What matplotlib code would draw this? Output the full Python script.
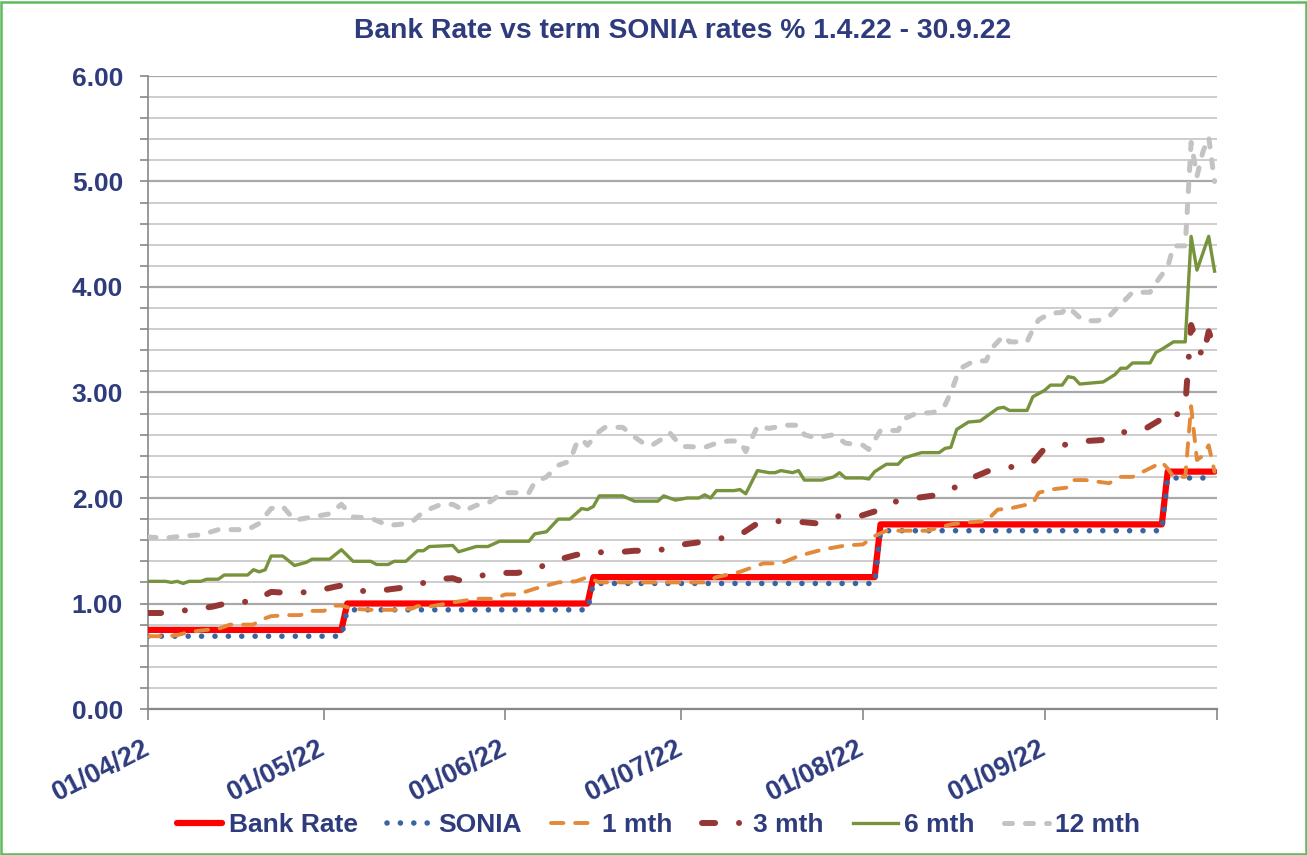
import pandas as pd
import matplotlib
matplotlib.use("Agg")
import matplotlib.pyplot as plt
from matplotlib.patches import Rectangle
from matplotlib.ticker import MultipleLocator

# === data (dd/mm, 2022) ===
bank_dates = ["01/04", "04/05", "05/05", "15/06", "16/06", "03/08", "04/08", "21/09", "22/09", "30/09"]
bank_vals = [0.75, 0.75, 1.00, 1.00, 1.25, 1.25, 1.75, 1.75, 2.25, 2.25]

sonia_dates = ["01/04", "04/05", "05/05", "15/06", "16/06", "03/08", "04/08", "21/09", "22/09", "30/09"]
sonia_vals = [0.69, 0.69, 0.94, 0.94, 1.19, 1.19, 1.69, 1.69, 2.19, 2.19]

m1_dates = ["01/04", "04/04", "06/04", "08/04", "11/04", "13/04", "15/04", "19/04", "20/04", "22/04",
            "25/04", "27/04", "29/04", "01/05", "03/05", "04/05", "06/05", "09/05", "13/05", "16/05",
            "17/05", "19/05", "23/05", "27/05", "30/05", "01/06", "03/06", "06/06", "10/06", "13/06",
            "15/06", "17/06", "05/07", "07/07", "11/07", "15/07", "18/07", "21/07", "25/07", "29/07",
            "01/08", "03/08", "05/08", "12/08", "16/08", "19/08", "22/08", "24/08", "26/08", "30/08",
            "31/08", "02/09", "05/09", "06/09", "08/09", "12/09", "14/09", "16/09", "20/09", "21/09",
            "22/09", "23/09", "25/09", "26/09", "27/09", "28/09", "29/09", "30/09"]
m1_vals = [0.69, 0.69, 0.70, 0.73, 0.75, 0.76, 0.80, 0.80, 0.84, 0.88,
           0.89, 0.89, 0.93, 0.93, 0.98, 0.98, 0.95, 0.94, 0.94, 0.95,
           0.975, 0.97, 1.01, 1.045, 1.045, 1.086, 1.086, 1.14, 1.20, 1.21,
           1.25, 1.20, 1.20, 1.25, 1.30, 1.38, 1.38, 1.45, 1.51, 1.55,
           1.56, 1.64, 1.69, 1.69, 1.75, 1.77, 1.78, 1.89, 1.90, 1.95,
           2.05, 2.08, 2.10, 2.17, 2.17, 2.14, 2.20, 2.20, 2.31, 2.34,
           2.28, 2.20, 2.20, 2.87, 2.36, 2.40, 2.50, 2.25]

m3_dates = ["01/04", "04/04", "08/04", "12/04", "15/04", "19/04", "22/04", "25/04", "29/04", "03/05",
            "04/05", "06/05", "09/05", "13/05", "16/05", "20/05", "23/05", "24/05", "26/05", "30/05",
            "03/06", "06/06", "09/06", "13/06", "16/06", "19/06", "23/06", "27/06", "30/06", "04/07",
            "07/07", "11/07", "14/07", "17/07", "20/07", "24/07", "28/07", "31/07", "04/08", "06/08",
            "10/08", "14/08", "16/08", "20/08", "23/08", "26/08", "30/08", "01/09", "04/09", "08/09",
            "11/09", "14/09", "18/09", "21/09", "22/09", "23/09", "25/09", "26/09", "27/09", "28/09",
            "29/09", "30/09"]
m3_vals = [0.91, 0.91, 0.94, 0.97, 1.01, 1.02, 1.11, 1.10, 1.11, 1.16,
           1.17, 1.13, 1.11, 1.14, 1.16, 1.23, 1.24, 1.22, 1.24, 1.29,
           1.29, 1.32, 1.40, 1.46, 1.49, 1.48, 1.50, 1.50, 1.55, 1.58,
           1.61, 1.65, 1.76, 1.78, 1.78, 1.76, 1.83, 1.82, 1.89, 1.96,
           2.00, 2.03, 2.08, 2.20, 2.27, 2.29, 2.34, 2.47, 2.50, 2.54,
           2.55, 2.62, 2.65, 2.75, 2.80, 2.76, 2.87, 3.64, 3.47, 3.33,
           3.58, 3.42]

m6_dates = ["01/04", "04/04", "05/04", "06/04", "07/04", "08/04", "10/04", "11/04", "13/04", "14/04",
            "18/04", "19/04", "20/04", "21/04", "22/04", "24/04", "26/04", "28/04", "29/04", "02/05",
            "04/05", "06/05", "09/05", "10/05", "12/05", "13/05", "15/05", "17/05", "18/05", "19/05",
            "23/05", "24/05", "27/05", "29/05", "31/05", "05/06", "06/06", "08/06", "10/06", "12/06",
            "14/06", "15/06", "16/06", "17/06", "21/06", "23/06", "27/06", "28/06", "30/06", "02/07",
            "04/07", "05/07", "06/07", "07/07", "10/07", "11/07", "12/07", "14/07", "16/07", "17/07",
            "18/07", "20/07", "21/07", "22/07", "25/07", "27/07", "28/07", "29/07", "01/08", "02/08",
            "03/08", "05/08", "07/08", "08/08", "11/08", "14/08", "15/08", "16/08", "17/08", "19/08",
            "21/08", "22/08", "24/08", "25/08", "26/08", "29/08", "30/08", "01/09", "02/09", "04/09",
            "05/09", "06/09", "07/09", "11/09", "13/09", "14/09", "15/09", "16/09", "19/09", "20/09",
            "21/09", "23/09", "25/09", "26/09", "27/09", "29/09", "30/09"]
m6_vals = [1.21, 1.21, 1.20, 1.21, 1.19, 1.21, 1.21, 1.23, 1.23, 1.27,
           1.27, 1.32, 1.30, 1.32, 1.45, 1.45, 1.36, 1.39, 1.42, 1.42,
           1.51, 1.40, 1.40, 1.37, 1.37, 1.40, 1.40, 1.50, 1.50, 1.54,
           1.55, 1.49, 1.54, 1.54, 1.59, 1.59, 1.66, 1.68, 1.80, 1.80,
           1.90, 1.89, 1.92, 2.02, 2.02, 1.97, 1.97, 2.02, 1.98, 2.00,
           2.00, 2.03, 2.00, 2.07, 2.07, 2.08, 2.04, 2.26, 2.24, 2.24,
           2.26, 2.24, 2.26, 2.17, 2.17, 2.20, 2.24, 2.19, 2.19, 2.18,
           2.25, 2.32, 2.32, 2.38, 2.43, 2.43, 2.47, 2.48, 2.65, 2.72,
           2.73, 2.77, 2.85, 2.86, 2.83, 2.83, 2.96, 3.02, 3.07, 3.07,
           3.15, 3.14, 3.08, 3.10, 3.17, 3.23, 3.23, 3.28, 3.28, 3.38,
           3.41, 3.48, 3.48, 4.48, 4.16, 4.48, 4.15]

m12_dates = ["01/04", "04/04", "07/04", "10/04", "13/04", "18/04", "20/04", "22/04", "24/04", "26/04",
             "29/04", "01/05", "02/05", "04/05", "06/05", "09/05", "12/05", "14/05", "16/05", "18/05",
             "21/05", "23/05", "25/05", "27/05", "29/05", "31/05", "01/06", "05/06", "06/06", "08/06",
             "10/06", "12/06", "13/06", "14/06", "15/06", "17/06", "18/06", "21/06", "23/06", "25/06",
             "26/06", "28/06", "29/06", "01/07", "05/07", "07/07", "09/07", "11/07", "12/07", "14/07",
             "16/07", "19/07", "21/07", "22/07", "24/07", "27/07", "29/07", "01/08", "02/08", "04/08",
             "07/08", "08/08", "10/08", "13/08", "15/08", "16/08", "17/08", "18/08", "20/08", "22/08",
             "23/08", "25/08", "26/08", "29/08", "30/08", "31/08", "02/09", "04/09", "05/09", "07/09",
             "08/09", "10/09", "12/09", "13/09", "16/09", "19/09", "20/09", "22/09", "23/09", "25/09",
             "26/09", "27/09", "28/09", "29/09", "30/09"]
m12_vals = [1.63, 1.62, 1.64, 1.65, 1.70, 1.70, 1.76, 1.90, 1.92, 1.79,
            1.82, 1.84, 1.85, 1.94, 1.82, 1.81, 1.74, 1.75, 1.77, 1.87,
            1.94, 1.94, 1.88, 1.93, 1.95, 2.03, 2.05, 2.05, 2.15, 2.20,
            2.31, 2.35, 2.50, 2.56, 2.50, 2.63, 2.67, 2.67, 2.58, 2.50,
            2.50, 2.57, 2.62, 2.49, 2.48, 2.52, 2.54, 2.54, 2.44, 2.68,
            2.66, 2.69, 2.69, 2.60, 2.57, 2.60, 2.52, 2.50, 2.46, 2.64,
            2.64, 2.75, 2.80, 2.81, 2.88, 3.00, 3.15, 3.24, 3.30, 3.30,
            3.42, 3.54, 3.48, 3.48, 3.60, 3.69, 3.75, 3.76, 3.81, 3.71,
            3.68, 3.68, 3.72, 3.78, 3.95, 3.95, 4.04, 4.19, 4.39, 4.39,
            5.37, 5.05, 5.28, 5.42, 5.00]

month_ticks = ["01/04", "01/05", "01/06", "01/07", "01/08", "01/09"]

# === style ===
navy = "#2E3B7D"
plt.rcParams["font.family"] = ["Liberation Sans", "DejaVu Sans"]
plt.rcParams["font.weight"] = "bold"


def to_dates(lst):
    return pd.to_datetime([f"{d}/2022" for d in lst], format="%d/%m/%Y")


fig = plt.figure(figsize=(13.07, 8.55), dpi=100)
ax = fig.add_axes([148 / 1307, 1 - 709 / 855, (1217 - 148) / 1307, (709 - 76) / 855])

ax.plot(to_dates(bank_dates), bank_vals, color="#FF0000", lw=4.5, label="Bank Rate",
        solid_capstyle="round", zorder=3)
ax.plot(to_dates(sonia_dates), sonia_vals, color="#3A64A0", lw=4.0, label="SONIA",
        linestyle=(0, (0.01, 2.4)), dash_capstyle="round", zorder=4)
ax.plot(to_dates(m1_dates), m1_vals, color="#E38A3A", lw=2.8, label="1 mth",
        linestyle=(0, (3.2, 3.0)), dash_capstyle="round", zorder=5)
ax.plot(to_dates(m3_dates), m3_vals, color="#953735", lw=4.3, label="3 mth",
        linestyle=(0, (2.2, 4.0, 0.01, 4.0)), dash_capstyle="round", zorder=6)
ax.plot(to_dates(m6_dates), m6_vals, color="#77933C", lw=2.4, label="6 mth", zorder=7)
ax.plot(to_dates(m12_dates), m12_vals, color="#C3C3C3", lw=3.6, label="12 mth",
        linestyle=(0, (1.6, 2.6)), dash_capstyle="round", zorder=8)

# y axis
ax.set_ylim(0, 6)
ax.yaxis.set_major_locator(MultipleLocator(1))
ax.yaxis.set_minor_locator(MultipleLocator(0.2))
ax.yaxis.set_major_formatter(plt.FuncFormatter(lambda v, p: f"{v:.2f}"))
ax.grid(axis="y", which="minor", color="#C9C9C9", lw=1.3, zorder=0)
ax.grid(axis="y", which="major", color="#A8A8A8", lw=1.6, zorder=0)
ax.tick_params(axis="y", which="both", direction="out", length=6, width=1.2,
               color="#888888", pad=12, labelsize=19, labelcolor=navy)

# x axis
start = pd.Timestamp("2022-04-01")
end = pd.Timestamp("2022-09-30") + pd.Timedelta(hours=10)
ax.set_xlim(start, end)
ticks = list(to_dates(month_ticks)) + [end]
ax.set_xticks(ticks)
ax.set_xticklabels([t.strftime("%d/%m/%y") for t in to_dates(month_ticks)] + [""])
ax.tick_params(axis="x", direction="out", length=8, width=1.2, color="#888888",
               pad=19, labelsize=19.5, labelcolor=navy)
for lab in ax.get_xticklabels():
    lab.set_rotation(27)
    lab.set_ha("right")
    lab.set_va("center")
    lab.set_rotation_mode("anchor")
    lab.set_fontweight("bold")
for lab in ax.get_yticklabels():
    lab.set_fontweight("bold")

for s in ["top", "right"]:
    ax.spines[s].set_visible(False)
ax.spines["left"].set_color("#888888")
ax.spines["left"].set_linewidth(1.2)
ax.spines["bottom"].set_color("#888888")
ax.spines["bottom"].set_linewidth(1.6)
ax.set_axisbelow(True)

fig.text(0.5225, 1 - 31 / 855, "Bank Rate vs term SONIA rates % 1.4.22 - 30.9.22",
         ha="center", va="center", fontsize=20.3, fontweight="bold", color=navy)

leg = fig.legend(loc="center", bbox_to_anchor=(0.504, 1 - 825 / 855), ncol=6, frameon=False,
                 fontsize=19, handlelength=1.7, handletextpad=0.25, columnspacing=1.1)
for t in leg.get_texts():
    t.set_color(navy)
    t.set_fontweight("bold")

fig.patches.append(Rectangle((0.001, 0.001), 0.998, 0.997, transform=fig.transFigure,
                             fill=False, edgecolor="#5DBB5D", lw=1.8))

fig.savefig("out.png", dpi=100)
